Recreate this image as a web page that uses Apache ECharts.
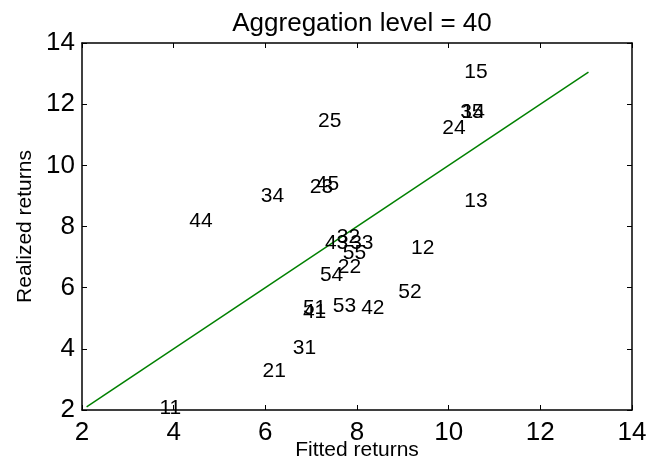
<!DOCTYPE html>
<html>
<head>
<meta charset="utf-8">
<script src="https://cdn.jsdelivr.net/npm/echarts@6/dist/echarts.min.js"></script>
<style>html,body{margin:0;padding:0;background:#fff}#c{width:651px;height:461px}</style>
</head>
<body>
<div id="c"></div>
<script>
var labels = ['11','12','13','14','15','21','22','23','24','25','31','32','33','34','35','41','42','43','44','45','51','52','53','54','55'];
var fitted = [3.69, 9.18, 10.34, 10.28, 10.34, 5.94, 7.58, 6.97, 9.86, 7.15, 6.60, 7.56, 7.85, 5.90, 10.25, 6.82, 8.09, 7.30, 4.34, 7.10, 6.82, 8.90, 7.47, 7.19, 7.69];
var realized = [2.07, 7.30, 8.83, 11.75, 13.04, 3.28, 6.68, 9.29, 11.22, 11.45, 4.03, 7.66, 7.46, 9.00, 11.75, 5.20, 5.34, 7.46, 8.18, 9.39, 5.34, 5.86, 5.40, 6.41, 7.13];
var lineX = [2.1, 13.05];
var lineY = [2.1, 13.05];
var ticks = [2, 4, 6, 8, 10, 12, 14];

var FONT = '"Liberation Sans", Arial, Helvetica, sans-serif';
var chart = echarts.init(document.getElementById('c'));
var pts = labels.map(function (l, i) { return [fitted[i], realized[i], l]; });
var linePts = lineX.map(function (x, i) { return [x, lineY[i]]; });

function axisBase(show, margin) {
  return {
    type: 'value', min: ticks[0], max: ticks[ticks.length - 1], interval: 2,
    axisLine: { show: true, onZero: false, lineStyle: { color: '#000', width: 1.5 } },
    axisTick: { show: true, inside: true, length: 5, lineStyle: { color: '#000', width: 1 } },
    splitLine: { show: false },
    axisLabel: { show: show, color: '#000', fontSize: 26, fontFamily: FONT, margin: margin }
  };
}

var xb = axisBase(true, 10);
xb.position = 'bottom';
xb.name = 'Fitted returns'; xb.nameLocation = 'middle'; xb.nameGap = 30; xb.nameMoveOverlap = false;
xb.nameTextStyle = { color: '#000', fontSize: 21, fontFamily: FONT };
var xt = axisBase(false, 7); xt.position = 'top';
var yl = axisBase(true, 7);
yl.position = 'left';
yl.name = 'Realized returns'; yl.nameLocation = 'middle'; yl.nameGap = 46; yl.nameMoveOverlap = false;
yl.nameTextStyle = { color: '#000', fontSize: 21, fontFamily: FONT };
var yr = axisBase(false, 7); yr.position = 'right';

chart.setOption({
  animation: false,
  backgroundColor: '#fff',
  title: {
    text: 'Aggregation level = 40', left: 357, top: 6, textAlign: 'center',
    textStyle: { color: '#000', fontSize: 26, fontWeight: 'normal', fontFamily: FONT }
  },
  grid: { left: 82, right: 19, top: 43, bottom: 51, containLabel: false, outerBoundsMode: 'none' },
  xAxis: [xb, xt],
  yAxis: [yl, yr],
  series: [
    {
      type: 'line', data: linePts, symbol: 'none', xAxisIndex: 0, yAxisIndex: 0,
      lineStyle: { color: '#008000', width: 1.5 }, z: 1
    },
    {
      type: 'scatter', data: pts, symbolSize: 0, xAxisIndex: 0, yAxisIndex: 0,
      itemStyle: { color: 'rgba(0,0,0,0)', opacity: 1 },
      label: {
        show: true, position: 'right', distance: 0,
        formatter: function (p) { return p.data[2]; },
        color: '#000', fontSize: 21, fontFamily: FONT
      },
      emphasis: { disabled: true }, z: 2
    }
  ]
});
</script>
</body>
</html>
